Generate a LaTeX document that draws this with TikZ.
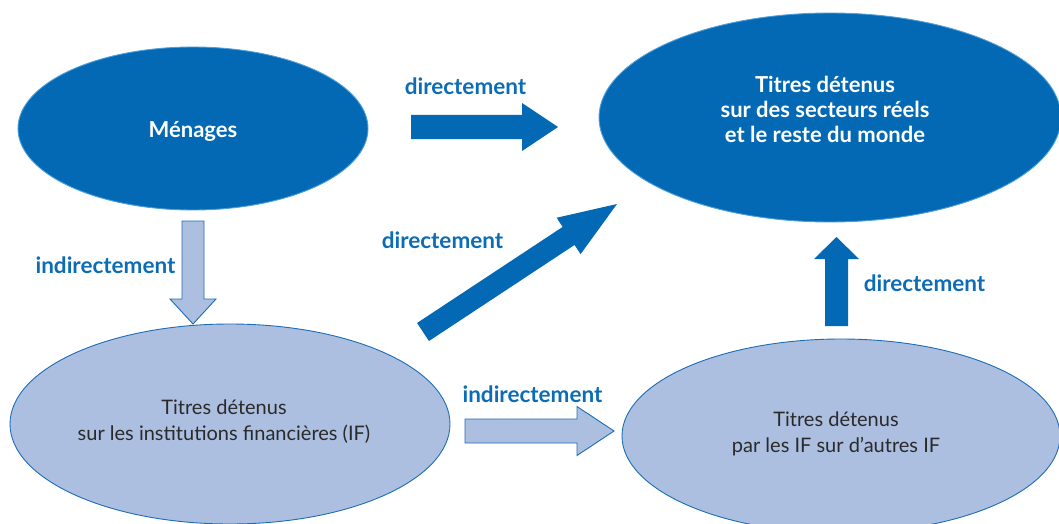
\documentclass[tikz,border=0pt]{standalone}
\usepackage{fontspec}
\setmainfont{Lato}
\usetikzlibrary{calc,shapes.geometric}

\definecolor{deepblue}{HTML}{0469B4}
\definecolor{paleblue}{HTML}{ACBFE1}
\definecolor{edgeblue}{HTML}{1C6DB6}
\definecolor{haloblue}{HTML}{4FA0DA}
\definecolor{labelblue}{HTML}{0C6CB5}
\definecolor{inkgray}{HTML}{2A2A2A}

% block arrow: #1 style, #2 tail, #3 tip, #4 half shaft width, #5 half head width, #6 head length
\newcommand\blockarrow[6]{%
  \coordinate (ba-h) at ($(#3)!#6!(#2)$);
  \draw[#1] ($(#2)!#4!90:(#3)$) -- ($(ba-h)!#4!90:(#3)$) -- ($(ba-h)!#5!90:(#3)$)
    -- (#3) -- ($(ba-h)!#5!-90:(#3)$) -- ($(ba-h)!#4!-90:(#3)$)
    -- ($(#2)!#4!-90:(#3)$) -- cycle;
}

\tikzset{
  darkell/.style={ellipse, fill=deepblue, draw=haloblue, line width=0.9pt, inner sep=0pt},
  lightell/.style={ellipse, fill=paleblue, draw=edgeblue, line width=0.9pt, inner sep=0pt},
  darktext/.style={text=white, font=\fontsize{22}{25}\selectfont\bfseries, align=center, inner sep=0pt},
  lighttext/.style={text=inkgray, font=\fontsize{20}{26}\selectfont, align=center, inner sep=0pt},
  flowlabel/.style={text=labelblue, font=\fontsize{22.5}{24}\selectfont\bfseries, inner sep=0pt, anchor=base},
  darkarrow/.style={fill=deepblue, draw=none},
  lightarrow/.style={fill=paleblue, draw=edgeblue, line width=0.9pt, line join=miter},
}

\begin{document}
\begin{tikzpicture}[x=1pt, y=-1pt]
  \useasboundingbox (0,0) rectangle (1059,524);
  \clip (0,0) rectangle (1059,524);

  % sectors
  \node[darkell, minimum width=350pt, minimum height=163pt] (men) at (193,128.5) {};
  \node[darkell, minimum width=462pt, minimum height=209pt] (real) at (830,117.5) {};
  \node[lightell, minimum width=440pt, minimum height=200pt] (finst) at (230,424) {};
  \node[lightell, minimum width=438pt, minimum height=194pt] (ifif) at (841,436) {};

  \node[darktext] (men-t) at ($(men)+(0,3)$) {Ménages};
  \node[darktext] (real-t) at ($(real)+(-5,-8)$) {Titres détenus\\sur des secteurs réels\\ et le reste du monde};
  \node[lighttext] (finst-t) at ($(finst)+(-6,-2)$) {Titres détenus\\sur les institutions financières (IF)};
  \node[lighttext] (ifif-t) at ($(ifif)+(-5,-2)$) {Titres détenus\\par les IF sur d’autres IF};

  % arrow end points
  \coordinate (a1s) at (411,127);  \coordinate (a1e) at (558,127);
  \coordinate (a2s) at (423,332);  \coordinate (a2e) at (617,204);
  \coordinate (a3s) at (193,221);  \coordinate (a3e) at (193,324);
  \coordinate (a4s) at (465,431);  \coordinate (a4e) at (614,431);
  \coordinate (a5s) at (836.5,326); \coordinate (a5e) at (836.5,237);

  \blockarrow{darkarrow}{a1s}{a1e}{12pt}{24pt}{36pt}
  \blockarrow{darkarrow}{a2s}{a2e}{10.8pt}{21.8pt}{58pt}
  \blockarrow{lightarrow}{a3s}{a3e}{11pt}{23pt}{25pt}
  \blockarrow{lightarrow}{a4s}{a4e}{12pt}{24.5pt}{37pt}
  \blockarrow{darkarrow}{a5s}{a5e}{11.5pt}{22.5pt}{22pt}

  % flow labels
  \node[flowlabel] (l1) at (465.5,95) {directement};
  \node[flowlabel] (l2) at (442.5,248) {directement};
  \node[flowlabel] (l3) at (105.5,273) {indirectement};
  \node[flowlabel] (l4) at (532.5,402) {indirectement};
  \node[flowlabel] (l5) at (924.5,291.5) {directement};
\end{tikzpicture}
\end{document}
